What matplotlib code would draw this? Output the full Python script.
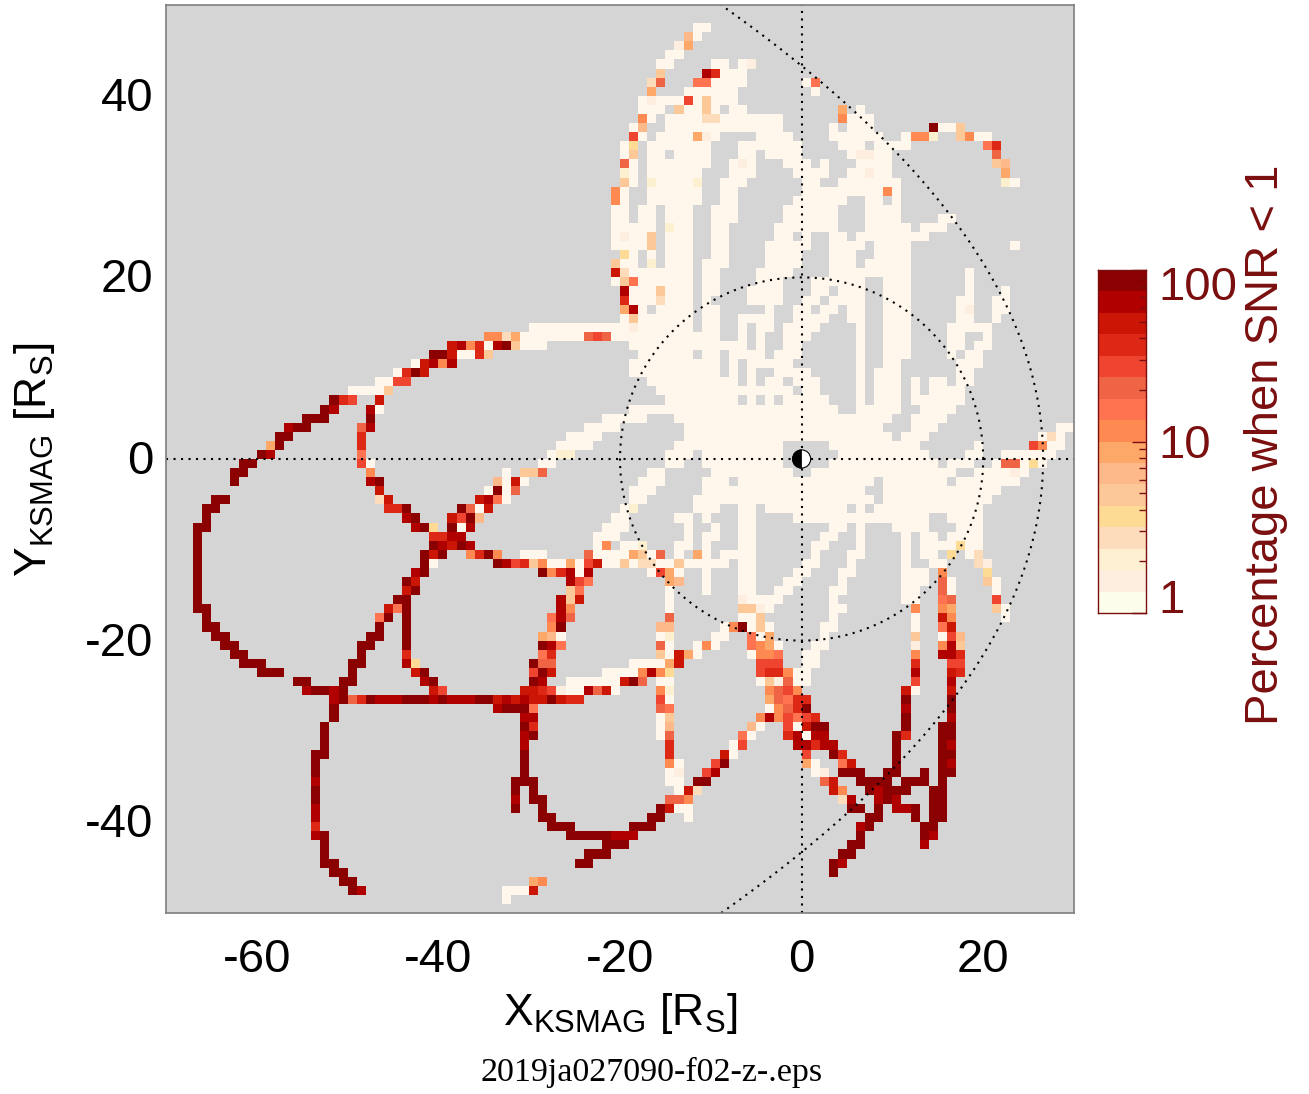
import numpy as np
import matplotlib
matplotlib.use("Agg")
import matplotlib.pyplot as plt
from matplotlib.colors import ListedColormap, BoundaryNorm
from matplotlib.patches import Wedge, Circle
from matplotlib.transforms import ScaledTranslation

plt.rcParams['font.family'] = ['Liberation Sans', 'DejaVu Sans']
plt.rcParams['axes.unicode_minus'] = False
plt.rcParams['mathtext.fontset'] = 'custom'
plt.rcParams['mathtext.rm'] = 'Liberation Sans'

# bins: 1 R_S square, column 0 starts at X=-70, row 0 starts at Y=+50 (going down)
# Bins whose percentage is in the lowest class (<1.3 %), inclusive column ranges
LOWEST_BINS = {
 2:"58-59",3:"58",5:"55-56",6:"54-55 60-61 63",7:"61-63",8:"60-63 70",9:"57-62 71",
 10:"52-56 58 60-62",11:"52-54 57-58 60 62-63 76",12:"53 55-58 61-67 75-77",
 13:"51 55-67 73 75-77 85-86",14:"52 54-57 60 65-68 73-78 81 89-90",
 15:"50 53-59 63-69 74-76 78-81",16:"50 53-54 56-59 63-64 66-69 75 78-79",
 17:"51 53-59 62 64 68-70 72 76-79",18:"51 53-58 62-64 69-72 75-76 78-79",
 19:"51 54-57 61-63 70-71 74-80 93",20:"50 53-58 61-62 70-78 80",
 21:"50 53-58 61-62 69-74 77-78 80",22:"49-50 52-53 55-57 60-62 68-73 77-80",
 23:"49-50 52-53 55-57 60-62 68-73 77-80 85-86",24:"49-53 56-57 60-61 67-73 77-81 83-85",
 25:"49 51-52 55-57 60-61 67-68 70 73-74 76-83",26:"49-52 55-57 60-61 66-70 73-76 78-81 93",
 27:"51 53 55-57 60-61 66-69 73-75 78-81",28:"50-51 55-57 59-61 66-69 73-75 77-81",
 29:"51-57 59-60 65-68 73-81 88",30:"52-57 59-60 65-67 71-76 79-81 88",
 31:"51-53 55-57 59-60 64-67 71-72 74-76 79-81 88 92",
 32:"51-53 55-57 59 64-67 70-71 73-76 79-81 87-88 91-92",
 33:"52 54-57 59-60 66 69-70 72-73 75-76 79-81 87 91-92",
 34:"50 52-57 59-60 63-66 69-72 75-76 79-81 87-88 91",
 35:"40-50 52-57 59-60 63 65-66 68-71 76 79-81 86-90",
 36:"39-45 49-60 63 65 68-70 76 79-81 86-87 90",
 37:"39-41 51-63 65 68-69 76 79-81 86-87 89-90",
 38:"33 52-57 59-60 62-65 67-69 76 79-81 86 88-89",
 39:"51-60 62 64-68 76 79-80 87-89",40:"51-60 62 64 67-70 76 78-80 87-88",
 41:"53-62 64 66-67 69-71 76 78-80 82 84-85 87-88",
 42:"54-68 70-71 76 78-80 82 84-87",43:"55-62 64 66 68-72 76 78-80 82-87",
 44:"51-73 76-80 83-86",45:"48-52 56-79 82-85",46:"46-49 57-78 82-84 98-99",
 47:"44-47 57-79 81-83 96 98",48:"43-46 56-67 73-82 89 97-98",
 49:"42 55-57 59-67 74-83 88-89 92-97",50:"41-42 55-56 59-67 73-84 86-88 91 94 96",
 51:"37 53-54 60-68 71-86 89-92 94",52:"37 39 52-54 59-61 63-77 79-85 87-93",
 53:"35 37 51-53 59-76 79-91",54:"37 51-52 58-77 79-90",
 55:"34 50 58-60 63-64 66-74 76 78-89",56:"49-50 56-57 59 63-64 69-83 86-89",
 57:"48-50 57 60 63-64 73-74 76 80-83 87-89",58:"47-49 57 59-60 63-64 72-73 76 81 83-84 86-89",
 59:"47 50-51 56-57 59 63-64 71-72 76 81 83-86 88-89",
 60:"39-41 47-50 53 56 59 61-64 71 75-76 81 83-84 88",
 61:"42-43 45 48-49 51 54-55 57-61 63-64 70-71 75 81 84-85",
 62:"45 53 56 59 63-64 69-70 74-75 81-83",63:"59 63-64 68-69 74 81-83 86 91",
 64:"55 59 63-64 67-68 73-74 81-82 86 91",65:"55 64-67 73 81-82",66:"55 66 73-74 92",
}

# Other bins: row -> (first column, class of each bin in hexadecimal 0..f)
TRACK_BINS = {
 3:[(57,"6")],4:[(56,"17")],6:[(64,"1")],7:[(54,"5"),(59,"ec")],
 8:[(53,"3a"),(58,"99"),(71,"9")],9:[(53,"7")],10:[(53,"1"),(57,"b"),(59,"5")],
 11:[(56,"5"),(59,"5"),(74,"7")],12:[(52,"8"),(59,"33"),(74,"8")],
 13:[(52,"6"),(84,"f"),(87,"5")],14:[(51,"b"),(58,"71"),(82,"882"),(87,"58")],
 15:[(51,"4"),(90,"9c")],16:[(51,"5"),(76,"11"),(91,"a")],17:[(50,"a"),(63,"1"),(91,"56")],
 18:[(50,"2"),(77,"1"),(92,"7")],19:[(50,"5"),(53,"2"),(58,"2"),(92,"2")],
 20:[(49,"8"),(79,"8")],21:[(49,"8")],24:[(55,"2")],25:[(50,"1"),(53,"5")],26:[(53,"5")],
 27:[(50,"4")],28:[(49,"5"),(53,"2")],29:[(49,"d3")],30:[(49,"059")],31:[(50,"e"),(54,"5")],
 32:[(50,"c"),(54,"3")],33:[(50,"7e"),(88,"1")],34:[(51,"5")],35:[(51,"1")],
 36:[(35,"88"),(37,"3"),(38,"7"),(46,"aba")],
 37:[(31,"de8c0ef5")],
 38:[(29,"ff"),(31,"d00"),(34,"c5")],
 39:[(27,"0de8e")],40:[(25,"0cfd")],41:[(23,"00bb")],42:[(20,"0000"),(24,"5")],
 43:[(18,"fcb"),(23,"d")],44:[(17,"fe"),(22,"e0")],45:[(15,"fff"),(22,"f")],
 46:[(13,"eff"),(21,"ae")],47:[(12,"ff"),(21,"c"),(97,"3")],48:[(11,"7f"),(21,"c"),(95,"b8")],
 49:[(10,"fe"),(21,"9"),(43,"22")],50:[(8,"ff"),(21,"b0"),(92,"aa"),(95,"4")],
 51:[(7,"ff"),(22,"8"),(39,"55"),(41,"a"),(93,"1")],52:[(7,"f"),(22,"ef"),(36,"6"),(38,"d")],
 53:[(23,"d"),(36,"f"),(38,"a")],54:[(5,"ff"),(23,"3d"),(34,"de"),(36,"9")],
 55:[(4,"ff"),(24,"ccf"),(32,"fa"),(35,"d"),(51,"2")],
 56:[(4,"f"),(26,"ef"),(31,"dbf"),(34,"6")],
 57:[(3,"ff"),(27,"ef"),(29,"4"),(31,"f0e")],58:[(3,"f"),(29,"ccee")],
 59:[(3,"f"),(29,"fedfe"),(48,"8"),(52,"2"),(87,"4")],
 60:[(3,"f"),(28,"fdf"),(33,"8cf8"),(46,"a"),(51,"75"),(54,"a"),(58,"7"),(86,"4"),(89,"3")],
 61:[(3,"f"),(28,"f0"),(36,"fe"),(38,"bc58"),(44,"7"),(46,"bd"),(50,"5"),(52,"33"),(56,"5"),(89,"31")],
 62:[(3,"f"),(27,"ef"),(41,"f8ce"),(46,"e"),(54,"b7"),(85,"8"),(90,"4")],
 63:[(3,"f"),(26,"fd"),(44,"eb9"),(55,"76"),(85,"a"),(90,"5")],
 64:[(3,"f"),(26,"df"),(44,"59"),(85,"a")],
 65:[(3,"f"),(25,"ff"),(43,"e5d"),(63,"1"),(85,"9a"),(91,"b")],
 66:[(3,"ff"),(24,"d9f"),(43,"e8"),(63,"55"),(65,"1"),(82,"8"),(85,"87"),(91,"5")],
 67:[(4,"f"),(23,"9f"),(26,"f"),(42,"9ea"),(55,"a"),(63,"005"),(73,"0"),(82,"0"),(85,"d8"),(92,"0")],
 68:[(4,"ff"),(23,"f"),(26,"f"),(42,"8f"),(54,"66"),(61,"08f050"),(72,"00"),(82,"0"),(85,"9d")],
 69:[(5,"ff"),(22,"ff"),(26,"f"),(41,"760"),(54,"02"),(60,"00"),(64,"907"),(72,"0"),(82,"5"),(85,"0b6")],
 70:[(6,"ff"),(21,"ff"),(26,"f"),(41,"fe9"),(54,"a0"),(58,"080"),(64,"9870"),(71,"00"),(82,"1"),(85,"8e5")],
 71:[(7,"ff"),(21,"f"),(26,"c"),(41,"9c"),(54,"50"),(56,"d70"),(64,"0889"),(70,"00"),(82,"8"),(85,"eec")],
 72:[(8,"fff"),(20,"ff"),(26,"e4"),(40,"faa"),(51,"0000"),(55,"7d"),(65,"bbb"),(70,"00"),(82,"c"),(86,"bb")],
 73:[(10,"fff"),(20,"f"),(27,"df"),(40,"bfd"),(48,"0000"),(52,"8e84"),(65,"bcc8"),(69,"00"),(82,"e"),(86,"dc")],
 74:[(14,"ff"),(19,"ff"),(28,"ef"),(40,"fe"),(44,"000000"),(50,"dfa"),(54,"00"),(65,"051a00"),(82,"b"),(86,"e")],
 75:[(15,"effe"),(19,"f"),(29,"db"),(39,"ddcb"),(43,"100"),(46,"ead"),(49,"0"),(54,"82"),(66,"8ab8"),(81,"d0"),(86,"d")],
 76:[(18,"efacfeeefffefeeeffdededdfdcc"),(54,"b0"),(66,"7a9cc"),(81,"f"),(86,"f")],
 77:[(18,"f"),(36,"efff9"),(54,"a9"),(66,"08acf"),(81,"e"),(86,"f")],
 78:[(18,"f"),(39,"ee"),(54,"05"),(65,"8e8b9bc"),(81,"f"),(86,"e")],
 79:[(17,"f"),(39,"fc"),(54,"06"),(64,"60"),(68,"b0dff"),(81,"f"),(85,"ff")],
 80:[(17,"f"),(39,"ef"),(54,"0a"),(63,"90"),(68,"ce0ee"),(80,"fc"),(85,"ff")],
 81:[(17,"f"),(39,"e"),(55,"c"),(62,"0b"),(69,"eecee"),(80,"f"),(85,"fe")],
 82:[(16,"ff"),(39,"f"),(55,"c"),(61,"d0"),(70,"b"),(73,"fc"),(80,"f"),(85,"ff")],
 83:[(16,"f"),(39,"f"),(55,"80"),(60,"bf"),(70,"70"),(74,"9d"),(80,"f"),(85,"fe")],
 84:[(16,"f"),(39,"f"),(55,"01"),(59,"be"),(71,"01"),(74,"fff"),(79,"ff"),(83,"f"),(85,"ff")],
 85:[(16,"e"),(38,"fff"),(55,"00"),(58,"ff"),(72,"ad"),(76,"ffff"),(81,"fff"),(85,"f")],
 86:[(16,"f"),(38,"f"),(40,"f"),(56,"0d3"),(73,"d8"),(77,"fefff"),(84,"ff")],
 87:[(16,"f"),(38,"e"),(40,"ff"),(55,"aa8"),(74,"3e"),(78,"efe"),(84,"ff")],
 88:[(16,"e"),(38,"f"),(41,"f"),(54,"fd00"),(75,"ff"),(78,"f"),(80,"eef"),(84,"ff")],
 89:[(16,"e"),(41,"ff"),(53,"ff"),(57,"0"),(77,"ff"),(82,"f"),(84,"ff")],
 90:[(16,"c"),(42,"fff"),(51,"fff"),(76,"ef"),(83,"ff")],
 91:[(16,"ef"),(44,"fffff"),(49,"eee"),(76,"f"),(83,"fe")],
 92:[(17,"f"),(48,"fff"),(75,"ff"),(83,"e")],93:[(17,"f"),(46,"fff"),(74,"ff")],
 94:[(17,"ff"),(45,"ff"),(73,"fe")],95:[(18,"ff"),(73,"f")],96:[(19,"ff"),(40,"78")],
 97:[(20,"fe"),(37,"000"),(40,"d")],98:[(37,"0")],
}

CLASS_COLORS = ["#fff7ec","#fdeee0","#fdf0d0","#fddcbc","#fedb95","#fdc898","#fdb98a","#fda868",
                "#fe8a52","#ff7350","#ee6445","#ef4530","#dd2815","#cb1505","#b00000","#8b0000"]
CBAR_COLORS = ["#fdfdec"] + CLASS_COLORS[1:]
X_TICKS = [-60,-40,-20,0,20]
Y_TICKS = [-40,-20,0,20,40]
CBAR_TICKS = [1,10,100]
CBAR_MINOR = [2,3,4,5,6,7,8,9,20,30,40,50,60,70,80,90]
NEAR_KRONIAN_RADIUS = 20.0
MAGNETOPAUSE_NOSE = 26.6
MAGNETOPAUSE_FLARE = 70.5

grid = np.full((100, 100), np.nan)
for row, text in LOWEST_BINS.items():
    for part in text.split():
        a, _, b = part.partition("-")
        grid[row, int(a):int(b or a) + 1] = 0
for row, runs in TRACK_BINS.items():
    for start, classes in runs:
        for k, ch in enumerate(classes):
            grid[row, start + k] = int(ch, 16)

W, H = 1309, 1094
fig = plt.figure(figsize=(W / 100, H / 100), dpi=100)
ax = fig.add_axes([166 / W, 1 - 913 / H, 908 / W, 908 / H])
ax.set_facecolor("#d5d5d5")
cmap = ListedColormap(CLASS_COLORS)
norm = BoundaryNorm(np.arange(-0.5, 16.5), 16)
xe = np.arange(-70, 31)
ye = np.arange(50, -51, -1)
ax.pcolormesh(xe, ye, np.ma.masked_invalid(grid), cmap=cmap, norm=norm, linewidth=0)
ax.set_xlim(-70, 30)
ax.set_ylim(-50, 50)

dots = dict(color="black", lw=1.5, ls=(0, (1, 2.6)))
ax.plot([-70, 30], [0, 0], **dots)
ax.plot([0, 0], [-50, 50], **dots)
th = np.linspace(0, 2 * np.pi, 400)
ax.plot(NEAR_KRONIAN_RADIUS * np.cos(th), NEAR_KRONIAN_RADIUS * np.sin(th), **dots)
yy = np.linspace(-50, 50, 400)
ax.plot(MAGNETOPAUSE_NOSE - yy ** 2 / MAGNETOPAUSE_FLARE, yy, **dots)
ax.add_patch(Circle((0, 0), 1, fc="white", ec="black", lw=0.8, zorder=5))
ax.add_patch(Wedge((0, 0), 1, 90, 270, fc="black", ec="black", lw=0.5, zorder=6))

for s in ax.spines.values():
    s.set_color("#7f7f7f")
    s.set_linewidth(1.2)
ax.set_xticks(X_TICKS)
ax.set_yticks(Y_TICKS)
ax.tick_params(length=0, labelsize=34, pad=18)
ax.tick_params(axis='y', pad=9)
for lab in ax.get_yticklabels():
    lab.set_transform(lab.get_transform() + ScaledTranslation(0, 1.5 / 72, fig.dpi_scale_trans))
fig.text(620 / W, 1 - 1013 / H, r"X$_{\mathregular{KSMAG}}$ [R$_{\mathregular{S}}$]",
         fontsize=32, ha="center", va="center")
fig.text(35 / W, 1 - 460 / H, r"Y$_{\mathregular{KSMAG}}$ [R$_{\mathregular{S}}$]",
         fontsize=32, ha="center", va="center", rotation=90)
fig.text(652 / W, 1 - 1072 / H, "2019ja027090-f02-z-.eps", fontsize=24.5,
         family="Liberation Serif", ha="center", va="center")

DARK = "#7b0f0f"
cax = fig.add_axes([1098 / W, 1 - 613 / H, 48 / W, 343 / H])
levels = np.geomspace(1, 100, 17)
cax.pcolormesh([0, 1], levels, np.arange(16).reshape(-1, 1), cmap=ListedColormap(CBAR_COLORS), norm=norm)
cax.set_yscale("log")
cax.set_ylim(1, 100)
cax.set_xticks([])
cax.yaxis.tick_right()
cax.set_yticks(CBAR_TICKS, [str(v) for v in CBAR_TICKS])
cax.set_yticks(CBAR_MINOR, minor=True)
cax.set_yticklabels([], minor=True)
cax.tick_params(axis="y", which="major", direction="in", length=10, color=DARK, labelcolor=DARK,
                labelsize=34, pad=9, width=1)
cax.tick_params(axis="y", which="minor", direction="in", length=5, color=DARK, width=1)
tl = cax.get_yticklabels()
tl[0].set_va("bottom")
tl[0].set_transform(tl[0].get_transform() + ScaledTranslation(0, -7 / 72, fig.dpi_scale_trans))
tl[2].set_va("top")
tl[2].set_transform(tl[2].get_transform() + ScaledTranslation(0, 3 / 72, fig.dpi_scale_trans))
for s in cax.spines.values():
    s.set_color(DARK)
    s.set_linewidth(1)
fig.text(1266 / W, 1 - 445 / H, "Percentage when SNR < 1", color=DARK, fontsize=34,
         rotation=90, ha="center", va="center")

fig.savefig("out.png", dpi=100)
